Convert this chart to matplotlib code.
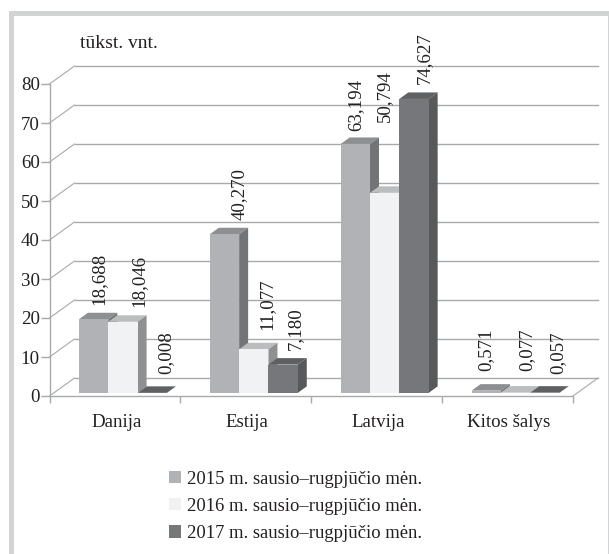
"""Eksportas pagal šalis, 3D stulpelinė diagrama."""

import matplotlib.pyplot as plt
from matplotlib.patches import Patch, Polygon, Rectangle

categories = ["Danija", "Estija", "Latvija", "Kitos šalys"]
series_names = [
    "2015 m. sausio–rugpjūčio mėn.",
    "2016 m. sausio–rugpjūčio mėn.",
    "2017 m. sausio–rugpjūčio mėn.",
]
values_2015 = [18.688, 40.270, 63.194, 0.571]
values_2016 = [18.046, 11.077, 50.794, 0.077]
values_2017 = [0.008, 7.180, 74.627, 0.057]
labels_2015 = ["18,688", "40,270", "63,194", "0,571"]
labels_2016 = ["18,046", "11,077", "50,794", "0,077"]
labels_2017 = ["0,008", "7,180", "74,627", "0,057"]
y_ticks = [0, 10, 20, 30, 40, 50, 60, 70, 80]

# stulpelių spalvos: priekis, viršus, šonas
FACE_COLORS = [
    ("#b1b2b5", "#8e8f92", "#737477"),
    ("#f1f2f4", "#bcbdbf", "#8f9092"),
    ("#76777a", "#5f6062", "#58595b"),
]
# etikečių poslinkiai pikseliais nuo stulpelio viršaus
LABEL_OFFSETS = [
    [(5.4, 14.3), (14.5, 14.3), (0.6, 13), (-0.3, 19.6)],
    [(16, 14.8), (13.2, 19), (-0.7, 70.8), (11.4, 21.6)],
    [(13.8, 18.8), (11.9, 14.6), (10, 14.9), (13.1, 18.7)],
]

W, H = 609, 554
PX_X = 523.5 / 4   # pikseliai vienai grupei
PX_Y = 312 / 80    # pikseliai vienam vienetui
WALL_DX = 25 / PX_X
WALL_DY = 18 / PX_Y
BAR_DX = 9 / PX_X
BAR_DY = 6.5 / PX_Y
BAR_START = 0.225
BAR_W = 0.224
BAR_FLOOR = 0.8
BAR_SCALE = 1.01
LINE = "#a7a9ac"
TEXT = "#231f20"
FONT = "Liberation Serif"
FS = 13.6

plt.rcParams["font.family"] = FONT

fig = plt.figure(figsize=(W / 100, H / 100), dpi=100)

# pilkas rėmelis
for x, y, w, h in [(9, 11, 600, 5), (9, 11, 5, 543), (607.5, 11, 1.5, 543)]:
    fig.patches.append(Rectangle((x / W, 1 - (y + h) / H), w / W, h / H,
                                 transform=fig.transFigure, color="#d1d3d4", lw=0))

ax = fig.add_axes([49.5 / W, 1 - 396 / H, 523.5 / W, 312 / H])
ax.patch.set_visible(False)
ax.set_xlim(0, 4)
ax.set_ylim(0, 80)

for side in ["top", "right"]:
    ax.spines[side].set_visible(False)
for side in ["left", "bottom"]:
    ax.spines[side].set_color(LINE)
    ax.spines[side].set_linewidth(1)

# galinė siena ir grindys
for tick in y_ticks:
    ax.plot([0, WALL_DX], [tick, tick + WALL_DY], color=LINE, lw=0.8, clip_on=False, zorder=1)
    ax.plot([WALL_DX, 4 + WALL_DX], [tick + WALL_DY] * 2, color=LINE, lw=1,
            clip_on=False, zorder=1)
ax.plot([4, 4 + WALL_DX], [0, WALL_DY], color=LINE, lw=0.8, clip_on=False, zorder=1)

# stulpeliai
all_values = [values_2015, values_2016, values_2017]
all_labels = [labels_2015, labels_2016, labels_2017]
for g in range(len(categories)):
    for s in range(3):
        value = all_values[s][g]
        front, top_c, side_c = FACE_COLORS[s]
        left = g + BAR_START + s * BAR_W
        right = left + BAR_W
        top = BAR_FLOOR + value * BAR_SCALE
        z = 3 + g + s * 0.1
        ax.bar(left, top - BAR_FLOOR, BAR_W, bottom=BAR_FLOOR, align="edge",
               color=front, lw=0, zorder=z + 0.02)
        ax.add_patch(Polygon(
            [(left, top), (right, top), (right + BAR_DX, top + BAR_DY), (left + BAR_DX, top + BAR_DY)],
            closed=True, color=top_c, lw=0, zorder=z, clip_on=False))
        ax.add_patch(Polygon(
            [(right, BAR_FLOOR), (right + BAR_DX, BAR_FLOOR + BAR_DY),
             (right + BAR_DX, top + BAR_DY), (right, top)],
            closed=True, color=side_c, lw=0, zorder=z + 0.01, clip_on=False))
        dx, dy = LABEL_OFFSETS[s][g]
        ax.annotate(all_labels[s][g], (left + BAR_W / 2, top), xytext=(dx * 0.72, dy * 0.72),
                    textcoords="offset points", rotation=90, ha="center", va="bottom",
                    fontsize=FS, color=TEXT, zorder=20, annotation_clip=False)

# ašys
ax.set_yticks(y_ticks)
ax.set_xticks(range(5))
ax.set_xticklabels([])
ax.set_xticks([i + 0.51 for i in range(4)], minor=True)
ax.set_xticklabels(categories, minor=True)
ax.tick_params(axis="y", length=6.5, width=1, color=LINE, pad=0.5, labelsize=FS, labelcolor=TEXT)
ax.tick_params(axis="x", which="major", length=5, width=1, color=LINE)
ax.tick_params(axis="x", which="minor", length=0, pad=13, labelsize=FS, labelcolor=TEXT)

fig.text(80 / W, 1 - 44 / H, "tūkst. vnt.", fontsize=14, color=TEXT, va="center", ha="left")

handles = [Patch(facecolor=c[0], edgecolor="none") for c in FACE_COLORS]
fig.legend(handles, series_names, loc="upper left", bbox_to_anchor=(169 / W, 1 - 470.5 / H),
           frameon=False, fontsize=13.4, handlelength=0.645, handleheight=0.645, handletextpad=0.32,
           labelspacing=0.55, labelcolor=TEXT, borderpad=0, borderaxespad=0)

fig.savefig("out.png", dpi=100)
